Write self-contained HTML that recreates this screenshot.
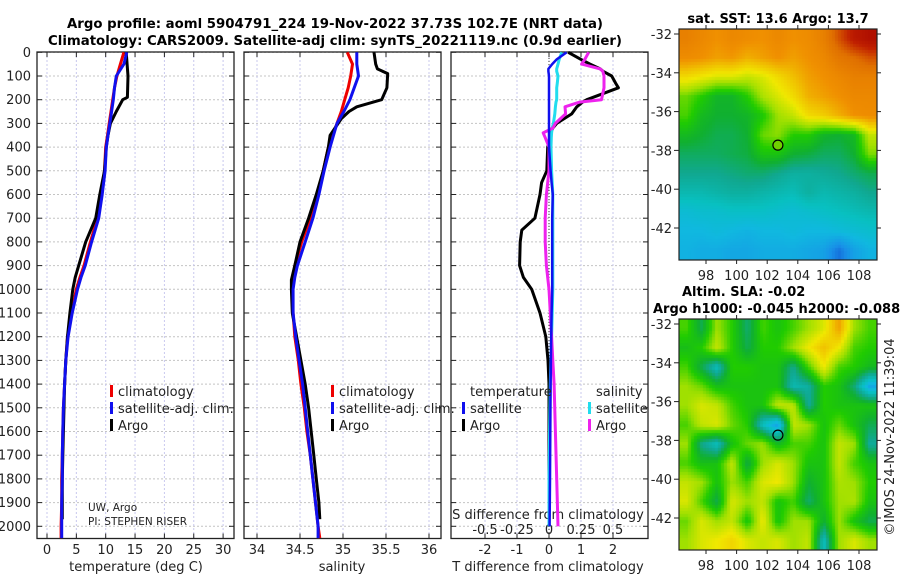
<!DOCTYPE html>
<html><head><meta charset="utf-8"><style>
body{margin:0;background:#fff;width:900px;height:580px;overflow:hidden;position:relative}
canvas{position:absolute}
svg{position:absolute;left:0;top:0}
text{font-family:"DejaVu Sans","Liberation Sans",sans-serif;fill:#222}
</style></head><body>
<canvas id="sst" width="198" height="231" style="left:679px;top:29px"></canvas>
<canvas id="sla" width="198" height="231" style="left:679px;top:319px"></canvas>
<svg id="s" width="900" height="580" xmlns="http://www.w3.org/2000/svg"></svg>
<script>
// ---- data ----
const depthT = [0,50,100,150,200,250,300,350,400,500,600,700,800,900,950,1000,1100,1200,1300,1400,1500,1600,1700,1800,1900,2000,2050];
const tempClim = [13.1,12.5,11.9,11.5,11.2,10.9,10.6,10.3,10.0,9.8,9.3,8.6,7.4,6.3,5.6,5.0,4.2,3.5,3.2,3.0,2.8,2.7,2.6,2.5,2.5,2.4,2.4];
const tempSat = [13.6,13.1,11.8,11.5,11.3,11.0,10.7,10.4,10.1,9.9,9.4,8.8,7.6,6.5,5.8,5.2,4.3,3.6,3.2,3.0,2.8,2.7,2.6,2.6,2.5,2.5,2.5];
const depthArgoT = [0,100,190,200,250,300,350,400,500,600,700,800,900,950,1000,1100,1200,1300,1400,1500,1600,1700,1800,1900,1970];
const tempArgo = [13.5,13.8,13.7,12.9,11.8,10.8,10.4,10.1,9.8,9.0,8.3,6.6,5.4,4.8,4.4,3.9,3.5,3.2,3.0,2.9,2.8,2.7,2.6,2.6,2.6];
const salClim = [35.05,35.11,35.09,35.06,35.02,34.98,34.93,34.88,34.83,34.77,34.71,34.62,34.52,34.44,34.42,34.41,34.42,34.44,34.48,34.51,34.55,34.58,34.62,34.65,34.68,34.71,34.73];
const salSat = [35.16,35.16,35.18,35.13,35.08,35.01,34.93,34.89,34.85,34.78,34.72,34.65,34.56,34.47,34.44,34.42,34.42,34.45,34.49,34.53,34.56,34.59,34.62,34.65,34.68,34.71,34.71];
const depthArgoS = [0,50,70,90,150,200,230,250,280,350,400,500,600,700,800,900,960,1000,1100,1200,1300,1400,1500,1600,1700,1800,1900,1970];
const salArgo = [35.36,35.38,35.40,35.52,35.51,35.45,35.16,35.07,34.98,34.85,34.83,34.77,34.69,34.60,34.50,34.44,34.40,34.40,34.41,34.46,34.51,34.56,34.60,34.63,34.66,34.69,34.72,34.73];
const depthDiff = [0,30,50,70,80,100,130,150,200,210,230,260,300,320,340,360,400,500,550,600,700,750,800,900,950,1000,1100,1200,1300,1400,1600,1800,2000];
const dTsat = [0.55,0.24,0.1,-0.02,-0.02,0,0,0,0,0,0,0,0,0,0,0,0,0.05,0.08,0.12,0.1,0.1,0.1,0.1,0.1,0.1,0.08,0.07,0.06,0.05,0.04,0.03,0.02];
const dTargo = [0.6,1.0,1.28,1.6,1.69,1.96,2.08,2.17,1.18,1.05,0.87,0.71,0.24,0.12,0.05,0.03,-0.04,-0.07,-0.23,-0.28,-0.44,-0.85,-0.9,-0.92,-0.8,-0.54,-0.28,-0.1,-0.03,0,0,0,0];
const dSsat = [0.10,0.08,0.07,0.06,0.06,0.07,0.065,0.06,0.06,0.055,0.05,0.045,0.034,0.025,0.02,0.018,0.016,0.02,0.025,0.03,0.03,0.03,0.03,0.03,0.03,0.03,0.025,0.02,0.015,0.01,0.005,0.0,0.0];
const dSargo = [0.31,0.28,0.255,0.40,0.42,0.43,0.43,0.43,0.41,0.24,0.125,0.13,0.05,0.03,-0.045,-0.03,0,0.0,-0.01,-0.02,-0.03,-0.03,-0.03,-0.02,-0.01,0,0.01,0.02,0.03,0.04,0.05,0.06,0.07];
const depthTicks = [0,100,200,300,400,500,600,700,800,900,1000,1100,1200,1300,1400,1500,1600,1700,1800,1900,2000];
const tTicks = [0,5,10,15,20,25,30];
const sTicks = [34,34.5,35,35.5,36];
const dTTicks = [-2,-1,0,1,2];
const dSTicks = ["-0.5","-0.25","0","0.25","0.5"];
const latTicks = [-32,-34,-36,-38,-40,-42];
const lonTicks = [98,100,102,104,106,108];
const sstGrid = [
[.78,.76,.74,.76,.75,.74,.76,.74,.75,.78,.85,.92,.95],
[.75,.74,.72,.73,.70,.72,.74,.72,.74,.76,.80,.82,.85],
[.64,.62,.60,.60,.58,.60,.64,.68,.72,.74,.76,.78,.78],
[.52,.48,.43,.43,.48,.56,.60,.64,.70,.72,.74,.76,.76],
[.50,.44,.42,.42,.43,.47,.55,.58,.64,.66,.70,.74,.75],
[.44,.42,.40,.40,.42,.52,.54,.48,.48,.43,.42,.44,.58],
[.39,.39,.39,.40,.41,.46,.46,.42,.41,.39,.39,.42,.53],
[.36,.36,.36,.37,.38,.38,.36,.34,.34,.35,.36,.38,.40],
[.32,.32,.33,.34,.34,.33,.32,.31,.34,.32,.33,.34,.36],
[.27,.28,.28,.29,.29,.29,.28,.27,.28,.29,.30,.31,.32],
[.25,.25,.26,.25,.24,.25,.25,.26,.25,.25,.26,.27,.28],
[.24,.23,.23,.22,.22,.23,.23,.23,.22,.21,.15,.21,.24]];
const slaGrid = [
[.50,.40,.55,.48,.38,.50,.46,.50,.55,.60,.72,.55,.50],
[.45,.48,.58,.48,.40,.48,.48,.55,.62,.68,.62,.50,.48],
[.50,.40,.30,.48,.48,.46,.46,.36,.50,.62,.50,.48,.44],
[.55,.52,.45,.46,.46,.46,.46,.32,.34,.48,.46,.38,.22],
[.55,.60,.58,.50,.46,.46,.58,.58,.35,.48,.46,.46,.46],
[.50,.58,.60,.52,.48,.30,.20,.58,.55,.46,.52,.46,.40],
[.55,.36,.30,.46,.52,.55,.44,.50,.50,.46,.58,.55,.35],
[.50,.45,.46,.58,.40,.55,.60,.55,.46,.46,.58,.50,.46],
[.58,.55,.46,.55,.50,.60,.62,.55,.42,.46,.56,.55,.48],
[.60,.50,.40,.60,.55,.58,.46,.50,.38,.46,.55,.56,.46],
[.52,.60,.55,.58,.46,.62,.46,.55,.55,.42,.55,.46,.40],
[.55,.60,.62,.65,.60,.58,.60,.55,.58,.30,.55,.60,.55]];
const argoLon = 102.7, argoLat = -37.73;

// ---- scales ----
const yD = d => 52.3 + d*0.237;
const xT = t => 47 + t*5.87;
const xS = s => 257 + (s-34)*86;
const xDT = v => 549 + v*32;
const xDS = v => 549 + v*128;
const mapX = lon => 706 + (lon-98)*15.3;
const mapY = (lat, top) => top + 5 + (-32-lat)*19.4;

const svg = document.getElementById('s');
const NS = 'http://www.w3.org/2000/svg';
function el(tag, attrs, parent){const e=document.createElementNS(NS,tag);for(const k in attrs)e.setAttribute(k,attrs[k]);(parent||svg).appendChild(e);return e;}
function txt(x,y,s,attrs){const e=el('text',Object.assign({x:x,y:y},attrs||{}));e.textContent=s;return e;}

const panels = [{x0:37,x1:234,name:'temperature-panel'},{x0:244,x1:441,name:'salinity-panel'},{x0:451,x1:648,name:'difference-panel'}];
const pTop = 52, pBot = 538.5;
const gridX = [tTicks.map(xT), sTicks.map(xS), dTTicks.map(xDT)];
panels.forEach((p,i)=>{
  const g = el('g',{});
  
  
  depthTicks.forEach(d=>{
    const l = el('line',{x1:p.x0,x2:p.x1,y1:yD(d),y2:yD(d),stroke:'#c4c4c4','stroke-width':1,'stroke-dasharray':'2,2'},g);
    
    
    el('line',{x1:p.x0,x2:p.x0+5,y1:yD(d),y2:yD(d),stroke:'#222'},g);
    el('line',{x1:p.x1-5,x2:p.x1,y1:yD(d),y2:yD(d),stroke:'#222'},g);
  });
  gridX[i].forEach(x=>{
    const l = el('line',{x1:x,x2:x,y1:pTop,y2:pBot,stroke:'#c8c8ee','stroke-width':1,'stroke-dasharray':'2,2'},g);
    
    
    el('line',{x1:x,x2:x,y1:pTop,y2:pTop+5,stroke:'#222'},g);
    el('line',{x1:x,x2:x,y1:pBot-5,y2:pBot,stroke:'#222'},g);
  });
  el('rect',{x:p.x0,y:pTop,width:p.x1-p.x0,height:pBot-pTop,fill:'none',stroke:'#222','stroke-width':1.3},g);
});
el('line',{x1:549,x2:549,y1:pTop,y2:pBot,stroke:'#333','stroke-width':1,'stroke-dasharray':'1,2'});

depthTicks.forEach(d=>{
  const t = txt(31,yD(d)+4.5,String(d),{'text-anchor':'end','font-size':13});
  
  
});
tTicks.forEach(v=>{const t=txt(xT(v),554,String(v),{'text-anchor':'middle','font-size':13});});
sTicks.forEach(v=>{const t=txt(xS(v),554,String(v),{'text-anchor':'middle','font-size':13});});
dTTicks.forEach(v=>{const t=txt(xDT(v),554,String(v),{'text-anchor':'middle','font-size':13});});
dSTicks.forEach(v=>{const t=txt(xDS(parseFloat(v)),534,v,{'text-anchor':'middle','font-size':13});});
let t;
t=txt(136,571,'temperature (deg C)',{'text-anchor':'middle','font-size':13});
t=txt(342,571,'salinity',{'text-anchor':'middle','font-size':13});
t=txt(548,571,'T difference from climatology',{'text-anchor':'middle','font-size':13});
t=txt(548,519,'S difference from climatology',{'text-anchor':'middle','font-size':13});

t=txt(335,28,'Argo profile: aoml 5904791_224 19-Nov-2022 37.73S 102.7E (NRT data)',{'text-anchor':'middle','font-size':13,'font-weight':'bold',textLength:536,lengthAdjust:'spacingAndGlyphs',style:'fill:#000'});

t=txt(335,45,'Climatology: CARS2009. Satellite-adj clim: synTS_20221119.nc (0.9d earlier)',{'text-anchor':'middle','font-size':13,'font-weight':'bold',textLength:574,lengthAdjust:'spacingAndGlyphs',style:'fill:#000'});


function series(xs, ds, xf, color, name, w){
  const pts = xs.map((v,i)=>xf(v).toFixed(1)+','+yD(ds[i]).toFixed(1)).join(' ');
  const l = el('polyline',{points:pts,fill:'none',stroke:color,'stroke-width':w||3,'stroke-linejoin':'round'});
  
  
}
series(tempClim, depthT, xT, '#ee0000', 'temperature-climatology-line');
series(tempArgo, depthArgoT, xT, '#000', 'temperature-argo-line');
series(tempSat, depthT, xT, '#1010ee', 'temperature-satellite-line');
series(salClim, depthT, xS, '#ee0000', 'salinity-climatology-line');
series(salArgo, depthArgoS, xS, '#000', 'salinity-argo-line');
series(salSat, depthT, xS, '#1010ee', 'salinity-satellite-line');
series(dTargo, depthDiff, xDT, '#000', 't-diff-argo-line');
series(dSsat, depthDiff, xDS, '#22ddee', 's-diff-satellite-line');
series(dSargo, depthDiff, xDS, '#ee22ee', 's-diff-argo-line');
series(dTsat, depthDiff, xDT, '#1010ee', 't-diff-satellite-line', 2.5);

function leg(x,y,color,label,name){
  const g=el('g',{});
  
  
  el('rect',{x:x,y:y-11,width:3,height:12,fill:color},g);
  const tt=el('text',{x:x+8,y:y,'font-size':13},g);tt.textContent=label;
}
leg(110,396,'#ee0000','climatology','legend-climatology');
leg(110,413,'#1010ee','satellite-adj. clim.','legend-satellite-adj');
leg(110,430,'#000','Argo','legend-argo');
leg(331,396,'#ee0000','climatology','legend-climatology-sal');
leg(331,413,'#1010ee','satellite-adj. clim.','legend-satellite-adj-sal');
leg(331,430,'#000','Argo','legend-argo-sal');
t=txt(470,396,'temperature',{'font-size':13});
t=txt(596,396,'salinity',{'font-size':13});
leg(462,413,'#1010ee','satellite','legend-t-satellite');
leg(462,430,'#000','Argo','legend-t-argo');
leg(588,413,'#22ddee','satellite','legend-s-satellite');
leg(588,430,'#ee22ee','Argo','legend-s-argo');
t=txt(88,511,'UW, Argo',{'font-size':10.5});
t=txt(88,525,'PI: STEPHEN RISER',{'font-size':10.5});

const stops=[[0.10,[16,64,200]],[0.18,[24,144,232]],[0.25,[16,184,224]],[0.30,[8,192,192]],[0.36,[16,168,144]],[0.42,[16,176,48]],[0.48,[32,204,0]],[0.55,[160,224,0]],[0.62,[240,232,0]],[0.68,[240,192,0]],[0.74,[240,144,0]],[0.82,[224,112,0]],[0.90,[192,32,0]],[1.0,[160,0,0]]];
function cmap(v){
  if(v<=stops[0][0])return stops[0][1];
  for(let i=1;i<stops.length;i++){if(v<=stops[i][0]){const a=stops[i-1],b=stops[i];const f=(v-a[0])/(b[0]-a[0]);return a[1].map((c,k)=>Math.round(c+(b[1][k]-c)*f));}}
  return stops[stops.length-1][1];
}
function drawMap(id, grid){
  const c=document.getElementById(id).getContext('2d');
  const W=198,H=231,R=grid.length,C=grid[0].length,cell=3;
  for(let py=0;py<H;py+=cell)for(let px=0;px<W;px+=cell){
    const gx=Math.min(C-1.001,Math.max(0,(px+1.5)/W*C-0.5)), gy=Math.min(R-1.001,Math.max(0,(py+1.5)/H*R-0.5));
    const i=Math.floor(gx),j=Math.floor(gy),fx=gx-i,fy=gy-j;
    const v=grid[j][i]*(1-fx)*(1-fy)+grid[j][i+1]*fx*(1-fy)+grid[j+1][i]*(1-fx)*fy+grid[j+1][i+1]*fx*fy;
    const col=cmap(v);c.fillStyle='rgb('+col.join(',')+')';c.fillRect(px,py,cell,cell);
  }
}
drawMap('sst', sstGrid);
drawMap('sla', slaGrid);
[[29,'sst'],[319,'sla']].forEach(([top,nm])=>{
  const g=el('g',{});
  
  
  el('rect',{x:679,y:top,width:198,height:231,fill:'none',stroke:'#222','stroke-width':1.2},g);
  latTicks.forEach(l=>{const y=mapY(l,top);el('line',{x1:674,x2:679,y1:y,y2:y,stroke:'#222'},g);el('line',{x1:877,x2:881,y1:y,y2:y,stroke:'#222'},g);const tt=el('text',{x:672,y:y+5,'text-anchor':'end','font-size':13},g);tt.textContent=String(l);});
  lonTicks.forEach(l=>{const x=mapX(l);el('line',{x1:x,x2:x,y1:top+231,y2:top+235,stroke:'#222'},g);el('line',{x1:x,x2:x,y1:top-4,y2:top,stroke:'#222'},g);const tt=el('text',{x:x,y:top+251,'text-anchor':'middle','font-size':13},g);tt.textContent=String(l);});
  const m=el('circle',{cx:mapX(argoLon),cy:mapY(argoLat,top),r:5,fill:nm==='sst'?'#70d000':'none',stroke:'#000','stroke-width':1.2},g);
  
  
});
t=txt(778,23,'sat. SST: 13.6 Argo: 13.7',{'text-anchor':'middle','font-size':13,'font-weight':'bold',style:'fill:#000'});
t=txt(682,296,'Altim. SLA: -0.02',{'font-size':13,'font-weight':'bold',style:'fill:#000'});
t=txt(653,313,'Argo h1000: -0.045 h2000: -0.088',{'font-size':13,'font-weight':'bold',style:'fill:#000'});
t=txt(0,0,'©IMOS 24-Nov-2022 11:39:04',{'font-size':13,'text-anchor':'middle',transform:'translate(894,437) rotate(-90)'});
</script>
</body></html>
